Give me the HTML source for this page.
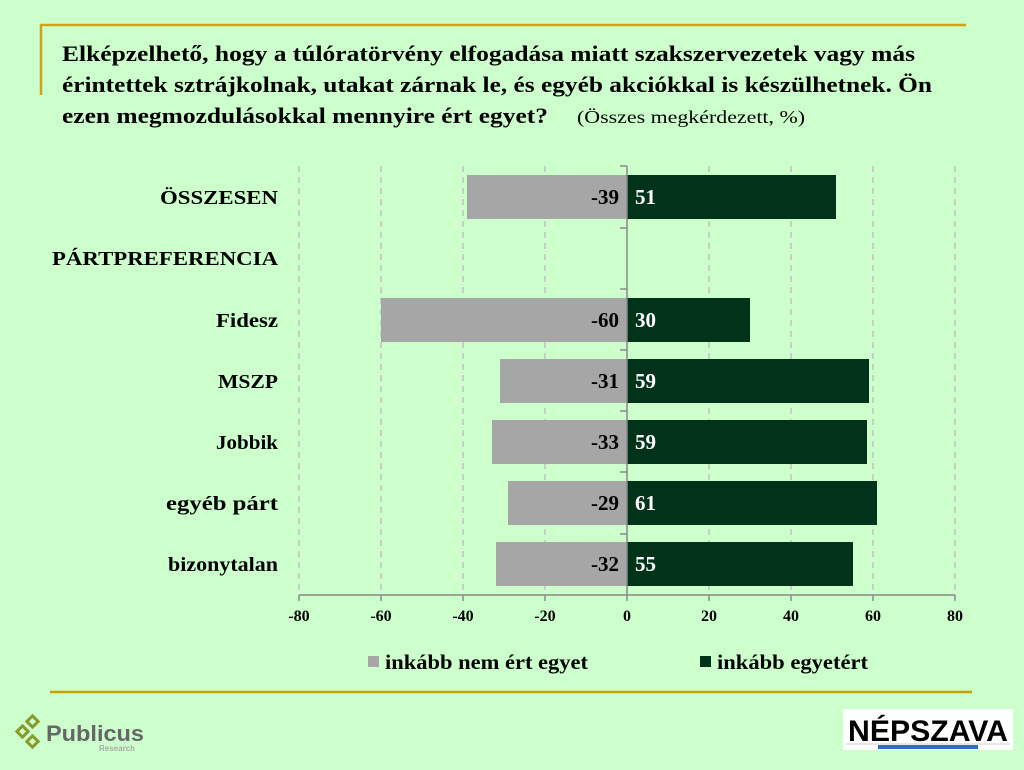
<!DOCTYPE html>
<html><head><meta charset="utf-8"><style>
html,body{margin:0;padding:0;background:#ccffcc;}
svg{display:block;font-family:"Liberation Serif",serif;}
</style></head><body>
<svg width="1024" height="770" viewBox="0 0 1024 770">
<rect width="1024" height="770" fill="#ccffcc"/>
<path d="M41 95 V25 H966" fill="none" stroke="#d4a017" stroke-width="2.5"/>
<line x1="50" y1="692" x2="972" y2="692" stroke="#c8a000" stroke-width="2.5"/>
<g font-weight="bold" font-size="22" fill="#000" lengthAdjust="spacingAndGlyphs">
<text x="62" y="61" textLength="853" lengthAdjust="spacingAndGlyphs">Elképzelhető, hogy a túlóratörvény elfogadása miatt szakszervezetek vagy más</text>
<text x="62" y="92" textLength="870" lengthAdjust="spacingAndGlyphs">érintettek sztrájkolnak, utakat zárnak le, és egyéb akciókkal is készülhetnek. Ön</text>
<text x="62" y="123" textLength="486" lengthAdjust="spacingAndGlyphs">ezen megmozdulásokkal mennyire ért egyet?</text>
</g>
<text x="577" y="123" font-size="18" textLength="228" lengthAdjust="spacingAndGlyphs">(Összes megkérdezett, %)</text>
<g stroke="#c0b0c0" stroke-width="1.2" stroke-dasharray="6,5">
<line x1="299" y1="166" x2="299" y2="595"/><line x1="381" y1="166" x2="381" y2="595"/>
<line x1="463" y1="166" x2="463" y2="595"/><line x1="545" y1="166" x2="545" y2="595"/>
<line x1="709" y1="166" x2="709" y2="595"/><line x1="791" y1="166" x2="791" y2="595"/>
<line x1="873" y1="166" x2="873" y2="595"/><line x1="955" y1="166" x2="955" y2="595"/>
</g>
<g>
<rect x="467" y="175" width="160" height="44" fill="#a6a6a6"/><rect x="627" y="175" width="209" height="44" fill="#00331a"/>
<rect x="381" y="298" width="246" height="44" fill="#a6a6a6"/><rect x="627" y="298" width="123" height="44" fill="#00331a"/>
<rect x="500" y="359" width="127" height="44" fill="#a6a6a6"/><rect x="627" y="359" width="242" height="44" fill="#00331a"/>
<rect x="492" y="420" width="135" height="44" fill="#a6a6a6"/><rect x="627" y="420" width="240" height="44" fill="#00331a"/>
<rect x="508" y="481" width="119" height="44" fill="#a6a6a6"/><rect x="627" y="481" width="250" height="44" fill="#00331a"/>
<rect x="496" y="542" width="131" height="44" fill="#a6a6a6"/><rect x="627" y="542" width="226" height="44" fill="#00331a"/>
</g>
<g stroke="#888" stroke-width="1.5">
<line x1="627" y1="166" x2="627" y2="595"/>
<line x1="299" y1="595" x2="955" y2="595"/>
<line x1="620" y1="166" x2="627" y2="166"/><line x1="620" y1="228" x2="627" y2="228"/>
<line x1="620" y1="289" x2="627" y2="289"/><line x1="620" y1="350" x2="627" y2="350"/>
<line x1="620" y1="411" x2="627" y2="411"/><line x1="620" y1="472" x2="627" y2="472"/>
<line x1="620" y1="534" x2="627" y2="534"/>
<line x1="299" y1="595" x2="299" y2="601"/><line x1="381" y1="595" x2="381" y2="601"/>
<line x1="463" y1="595" x2="463" y2="601"/><line x1="545" y1="595" x2="545" y2="601"/>
<line x1="627" y1="595" x2="627" y2="601"/><line x1="709" y1="595" x2="709" y2="601"/>
<line x1="791" y1="595" x2="791" y2="601"/><line x1="873" y1="595" x2="873" y2="601"/>
<line x1="955" y1="595" x2="955" y2="601"/>
</g>
<g font-weight="bold" font-size="20" fill="#000">
<text x="160" y="204" textLength="118" lengthAdjust="spacingAndGlyphs">ÖSSZESEN</text>
<text x="52" y="265" textLength="226" lengthAdjust="spacingAndGlyphs">PÁRTPREFERENCIA</text>
<text x="216" y="327" textLength="62" lengthAdjust="spacingAndGlyphs">Fidesz</text>
<text x="218" y="388" textLength="60" lengthAdjust="spacingAndGlyphs">MSZP</text>
<text x="216" y="449" textLength="62" lengthAdjust="spacingAndGlyphs">Jobbik</text>
<text x="166" y="510" textLength="112" lengthAdjust="spacingAndGlyphs">egyéb párt</text>
<text x="168" y="571" textLength="110" lengthAdjust="spacingAndGlyphs">bizonytalan</text>
</g>
<g font-weight="bold" font-size="21" text-anchor="end" fill="#000">
<text x="619" y="204">-39</text><text x="619" y="327">-60</text><text x="619" y="388">-31</text>
<text x="619" y="449">-33</text><text x="619" y="510">-29</text><text x="619" y="571">-32</text>
</g>
<g font-weight="bold" font-size="21" fill="#fff">
<text x="635" y="204">51</text><text x="635" y="327">30</text><text x="635" y="388">59</text>
<text x="635" y="449">59</text><text x="635" y="510">61</text><text x="635" y="571">55</text>
</g>
<g font-weight="bold" font-size="16" text-anchor="middle" fill="#000">
<text x="299" y="621">-80</text><text x="381" y="621">-60</text><text x="463" y="621">-40</text>
<text x="545" y="621">-20</text><text x="627" y="621">0</text><text x="709" y="621">20</text>
<text x="791" y="621">40</text><text x="873" y="621">60</text><text x="955" y="621">80</text>
</g>
<rect x="368" y="656" width="11" height="11" fill="#a6a6a6"/>
<text x="385" y="669" font-weight="bold" font-size="21" textLength="203" lengthAdjust="spacingAndGlyphs">inkább nem ért egyet</text>
<rect x="700" y="656" width="11" height="11" fill="#00331a"/>
<text x="717" y="669" font-weight="bold" font-size="21" textLength="151" lengthAdjust="spacingAndGlyphs">inkább egyetért</text>
<g fill="#8a9a2a">
<rect x="27" y="716" width="11" height="11" transform="rotate(45 32.5 721.5)"/>
<rect x="17" y="726" width="11" height="11" transform="rotate(45 22.5 731.5)"/>
<rect x="27" y="736" width="11" height="11" transform="rotate(45 32.5 741.5)"/>
</g>
<g fill="#ccffcc"><rect x="30" y="719" width="5" height="5" transform="rotate(45 32.5 721.5)"/><rect x="20" y="729" width="5" height="5" transform="rotate(45 22.5 731.5)"/><rect x="30" y="739" width="5" height="5" transform="rotate(45 32.5 741.5)"/></g>
<text x="46" y="741" font-family="Liberation Sans,sans-serif" font-weight="bold" font-size="22" fill="#666" textLength="98" lengthAdjust="spacingAndGlyphs">Publicus</text>
<text x="99" y="751" font-family="Liberation Sans,sans-serif" font-weight="bold" font-size="8" fill="#aaa">Research</text>
<rect x="843" y="709" width="170" height="41" fill="#fff"/>
<text x="928" y="741" text-anchor="middle" font-family="Liberation Sans,sans-serif" font-weight="bold" font-size="30" fill="#000" textLength="160" lengthAdjust="spacingAndGlyphs">NÉPSZAVA</text>
<line x1="846" y1="744" x2="1010" y2="744" stroke="#ccc" stroke-width="1"/>
<rect x="878" y="745" width="100" height="4" fill="#2a6fd0"/>
</svg>
</body></html>
